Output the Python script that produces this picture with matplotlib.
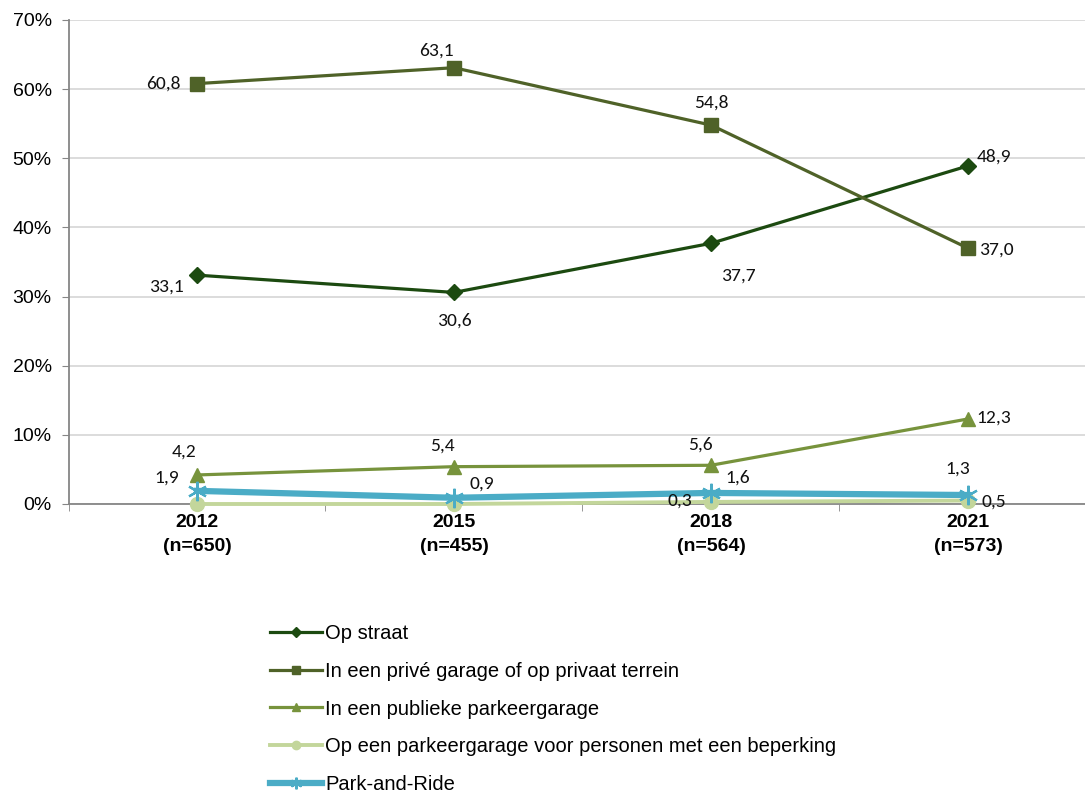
import matplotlib.pyplot as plt
from matplotlib import font_manager
from matplotlib.ticker import FixedLocator

# data (percentages)
years = ['2012\n(n=650)', '2015\n(n=455)', '2018\n(n=564)', '2021\n(n=573)']
op_straat = [33.1, 30.6, 37.7, 48.9]
prive = [60.8, 63.1, 54.8, 37.0]
publiek = [4.2, 5.4, 5.6, 12.3]
beperking = [0.0, 0.0, 0.3, 0.5]
park_ride = [1.9, 0.9, 1.6, 1.3]

names = ['Op straat',
         'In een privé garage of op privaat terrein',
         'In een publieke parkeergarage',
         'Op een parkeergarage voor personen met een beperking',
         'Park-and-Ride']

# label offsets in pixels (dx, dy), None = no label
off_straat = [(-31, -11), (0, -28), (27, -32), (26, 9)]
off_prive = [(-34, 0), (-18, 17), (0, 22), (28, -1)]
off_publiek = [(-13, 23), (-12, 21), (-11, 21), (26, 1)]
off_beperking = [None, None, (-31, 1), (26, -1)]
off_park = [(-30, 13), (28, 14), (27, 15), (-10, 26)]

plt.rcParams['font.family'] = ['Liberation Sans', 'DejaVu Sans']
avail = {f.name for f in font_manager.fontManager.ttflist}
label_font = 'Carlito' if 'Carlito' in avail else 'Lato'
label_size = 14 if label_font == 'Carlito' else 13

fig = plt.figure(figsize=(10.85, 7.94), dpi=100)
ax = fig.add_axes([68.5 / 1085, 1 - 504 / 794, 1028 / 1085, 484 / 794])

x = list(range(len(years)))
series = [
    (op_straat, '#1C4A10', 'D', 8, 2.3, off_straat),
    (prive, '#4F6228', 's', 9.5, 2.3, off_prive),
    (publiek, '#77933C', '^', 9.5, 2.3, off_publiek),
    (beperking, '#C3D69B', 'o', 10, 2.8, off_beperking),
    (park_ride, '#4BACC6', (6, 2, 0), 14, 4.5, off_park),
]

# draw from back to front like the reference
order = [3, 2, 4, 1, 0]
for i in order:
    vals, col, mk, ms, lw, offs = series[i]
    ax.plot(x, vals, color=col, marker=mk, markersize=ms, linewidth=lw,
            markeredgecolor=col, markeredgewidth=1.6 if i == 4 else 1,
            label=names[i], zorder=3 + i, clip_on=False)
    for xi, v, o in zip(x, vals, offs):
        if o is None:
            continue
        ax.annotate(f'{v:.1f}'.replace('.', ','), (xi, v),
                    xytext=(o[0] * 0.72, o[1] * 0.72), textcoords='offset points',
                    ha='center', va='center', fontsize=label_size, family=label_font,
                    color='#111111', zorder=10)

ax.set_xlim(-0.5, 3.5)
ax.set_ylim(0, 70)
ax.set_yticks(range(0, 71, 10))
ax.set_yticklabels([f'{v}%' for v in range(0, 71, 10)], fontsize=14)
ax.set_xticks(x)
ax.set_xticklabels(years, fontsize=14, fontweight='bold', linespacing=1.55)
ax.xaxis.set_minor_locator(FixedLocator([-0.5, 0.5, 1.5, 2.5, 3.5]))
ax.tick_params(axis='x', which='major', length=0, pad=7)
ax.tick_params(axis='x', which='minor', length=5, color='#868686', direction='out')
ax.tick_params(axis='y', length=5, color='#868686', pad=7)

ax.grid(axis='y', color='#D9D9D9', linewidth=1.3)
ax.set_axisbelow(True)
for s in ['top', 'right']:
    ax.spines[s].set_visible(False)
for s in ['left', 'bottom']:
    ax.spines[s].set_color('#868686')
    ax.spines[s].set_linewidth(1.3)

handles, labels = ax.get_legend_handles_labels()
lookup = dict(zip(labels, handles))
leg = fig.legend([lookup[n] for n in names], names, loc='upper left',
                 bbox_to_anchor=(262 / 1085, 1 - 616 / 794), frameon=False,
                 fontsize=14.5, handlelength=2.6, handletextpad=0.15,
                 labelspacing=0.93, markerscale=0.6, borderaxespad=0)

fig.savefig('out.png', dpi=100)
